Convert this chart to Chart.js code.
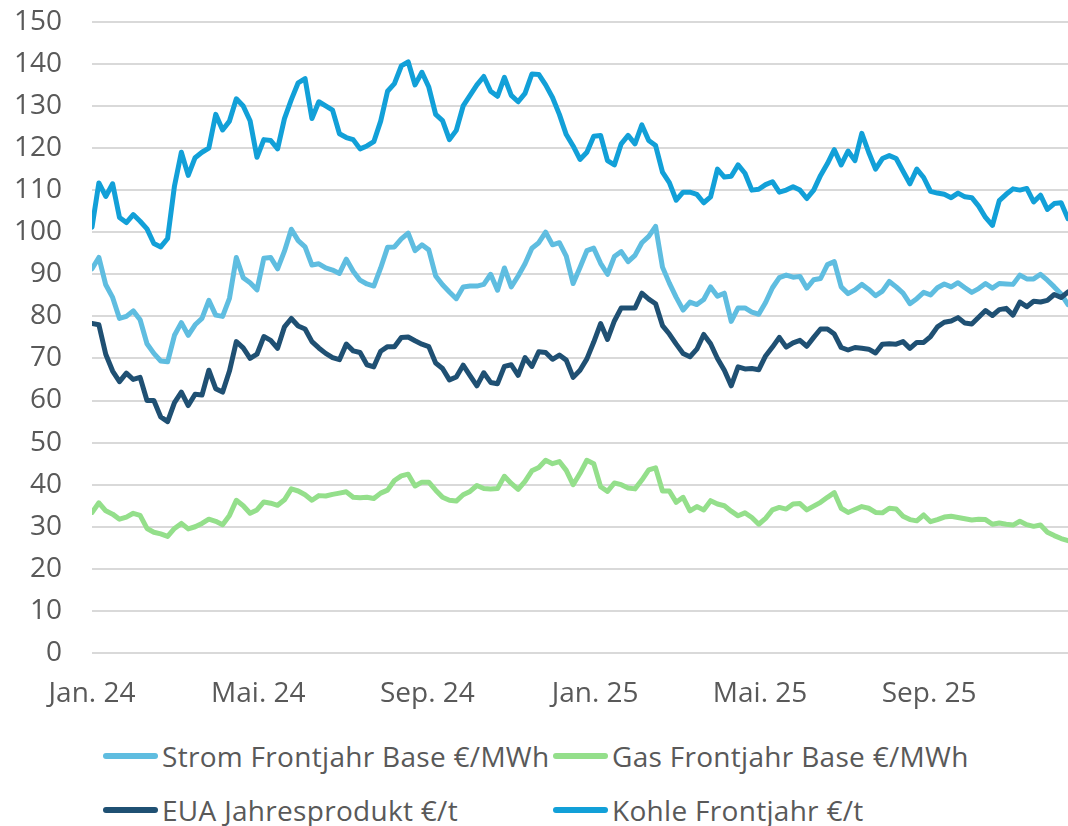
<!DOCTYPE html>
<html lang="de">
<head>
<meta charset="utf-8">
<title>Frontjahrespreise Strom, Gas, EUA, Kohle</title>
<script src="https://cdn.jsdelivr.net/npm/chart.js@4.4.1/dist/chart.umd.min.js"></script>
<style>
  html, body { margin: 0; padding: 0; background: #fff; overflow: hidden; }
  #wrap { position: relative; width: 1068px; height: 826px; overflow: hidden; }
  #box { position: absolute; left: 0; top: -25px; width: 1068px; height: 751px; }
  .item { position: absolute; display: flex; align-items: center; font-family: "Open Sans", sans-serif; font-size: 28px; letter-spacing: 0.3px; color: #595959; white-space: nowrap; line-height: 1; }
  .swatch { display: inline-block; width: 55px; height: 6px; border-radius: 3px; margin-right: 4px; }
</style>
</head>
<body>
<div id="wrap">
  <div id="box"><canvas id="chart"></canvas></div>
  <div id="legend"></div>
</div>
<script>
// Werte alle 5 Tage ab 01.01.2024 (Tag 0)
const stepDays = 5;

const tickDays = [0, 121, 244, 366, 486, 609];
const tickLabels = ["Jan. 24", "Mai. 24", "Sep. 24", "Jan. 25", "Mai. 25", "Sep. 25"];

const seriesNames = [
  "Strom Frontjahr Base €/MWh",
  "Gas Frontjahr Base €/MWh",
  "EUA Jahresprodukt €/t",
  "Kohle Frontjahr €/t"
];
const seriesColors = ["#5fbde0", "#94df8b", "#1f5073", "#12a0d8"];

const strom = [
  91.3, 94, 87.5, 84.5, 79.5, 80, 81.3, 79.2, 73.5, 71.2, 69.4, 69.2,
  75.5, 78.5, 75.5, 78, 79.5, 83.8, 80.3, 80, 84.3, 94, 89.2, 88,
  86.3, 93.8, 94, 91.3, 95.5, 100.7, 98, 96.5, 92.2, 92.5, 91.5, 91,
  90.2, 93.6, 90.7, 88.6, 87.7, 87.2, 91.5, 96.4, 96.5, 98.4, 99.8, 95.6,
  97, 95.8, 89.6, 87.5, 85.8, 84.2, 87, 87.2, 87.2, 87.6, 90, 86.2,
  91.5, 87, 89.6, 92.5, 96.2, 97.5, 100, 97, 97.5, 94.3, 87.8, 91.6,
  95.6, 96.2, 92.6, 90, 94.2, 95.4, 93, 94.5, 97.5, 99, 101.4, 91.7,
  87.9, 84.5, 81.5, 83.4, 82.8, 84, 87, 84.8, 85.5, 78.8, 82, 82,
  81, 80.5, 83.3, 86.8, 89.2, 89.8, 89.3, 89.5, 86.7, 88.7, 89, 92.3,
  93, 87, 85.4, 86.3, 87.6, 86.4, 84.9, 86, 88.3, 87, 85.5, 83,
  84.2, 85.7, 85.1, 86.8, 87.7, 87, 88, 86.8, 85.7, 86.6, 87.8, 86.7,
  87.8, 87.7, 87.6, 89.8, 88.9, 88.9, 90, 88.6, 87, 85.3, 82.8
];

const gas = [
  33.4, 35.7, 33.8, 33, 31.8, 32.3, 33.2, 32.7, 29.6, 28.7, 28.3, 27.7,
  29.6, 30.8, 29.5, 30, 30.8, 31.8, 31.3, 30.5, 32.7, 36.3, 35, 33.2,
  34, 35.9, 35.6, 35.1, 36.4, 39, 38.5, 37.6, 36.3, 37.4, 37.3, 37.7,
  38, 38.3, 37, 36.9, 37, 36.7, 38, 38.7, 41, 42.1, 42.5, 39.7,
  40.6, 40.6, 38.7, 37, 36.3, 36.1, 37.6, 38.4, 39.8, 39.1, 39, 39.1,
  42, 40.3, 38.9, 40.8, 43.3, 44.1, 45.8, 45, 45.5, 43.4, 40, 42.7,
  45.8, 45, 39.5, 38.4, 40.4, 40, 39.2, 39, 41.1, 43.5, 44, 38.5,
  38.5, 35.8, 37, 33.8, 34.8, 34, 36.2, 35.4, 35, 33.7, 32.6, 33.3,
  32.2, 30.6, 32, 34, 34.6, 34.2, 35.4, 35.5, 34, 34.9, 35.8, 37,
  38.1, 34.4, 33.4, 34.1, 34.8, 34.4, 33.4, 33.3, 34.4, 34.2, 32.5, 31.7,
  31.4, 32.8, 31.2, 31.7, 32.3, 32.5, 32.2, 31.9, 31.6, 31.8, 31.7, 30.6,
  30.9, 30.6, 30.4, 31.3, 30.5, 30.1, 30.4, 28.7, 27.9, 27.2, 26.7
];

const eua = [
  78.3, 78, 71, 67, 64.5, 66.5, 65, 65.5, 60, 60, 56.1, 55,
  59.5, 62, 58.8, 61.5, 61.3, 67.2, 62.8, 62, 67, 74, 72.5, 70,
  71, 75.2, 74.3, 72.4, 77.5, 79.5, 77.7, 77, 74, 72.5, 71.2, 70.2,
  69.7, 73.4, 71.8, 71.4, 68.5, 68, 71.7, 72.8, 72.8, 75, 75.1, 74.2,
  73.4, 72.8, 68.9, 67.6, 64.9, 65.6, 68.4, 65.9, 63.5, 66.6, 64.3, 64,
  68.1, 68.5, 66, 70.2, 68.1, 71.6, 71.4, 69.8, 70.8, 69.6, 65.5, 67.2,
  69.9, 73.9, 78.3, 74.5, 78.9, 82, 82, 82, 85.5, 84.1, 83, 77.8,
  75.8, 73.4, 71.2, 70.4, 72.2, 75.7, 73.5, 70, 67.2, 63.5, 68, 67.5,
  67.6, 67.3, 70.6, 72.7, 75, 72.7, 73.7, 74.3, 72.9, 75, 77, 77,
  75.8, 72.6, 72, 72.6, 72.4, 72.2, 71.3, 73.4, 73.5, 73.4, 74, 72.4,
  73.8, 73.8, 75.2, 77.5, 78.6, 78.9, 79.7, 78.4, 78.2, 79.8, 81.4, 80.2,
  81.6, 81.9, 80.3, 83.4, 82.3, 83.6, 83.4, 83.8, 85.2, 84.5, 85.8
];

const kohle = [
  101.2, 111.7, 108.5, 111.5, 103.5, 102.3, 104.2, 102.6, 100.8, 97.3, 96.5, 98.5,
  111, 119, 113.5, 117.7, 119, 120, 128, 124.3, 126.4, 131.7, 130, 126.5,
  117.8, 122, 121.8, 119.8, 127, 131.5, 135.5, 136.5, 127, 131, 130, 129,
  123.4, 122.5, 122, 119.8, 120.5, 121.5, 126.4, 133.5, 135.3, 139.5, 140.5, 135,
  138, 134.5, 128, 126.5, 122, 124.2, 130, 132.5, 135, 137, 133.5, 132.3,
  136.8, 132.5, 131, 133, 137.6, 137.5, 135, 132, 128, 123.2, 120.5, 117.3,
  119, 122.8, 123, 117, 116, 121, 123, 121, 125.5, 121.8, 120.6, 114.3,
  111.8, 107.6, 109.5, 109.5, 109, 107, 108.4, 115, 113.1, 113.3, 116, 114,
  110, 110.2, 111.3, 112, 109.5, 110, 110.8, 110, 108, 110, 113.5, 116.3,
  119.6, 116, 119.3, 117, 123.5, 119, 115, 117.5, 118.2, 117.5, 114.5, 111.5,
  115, 113, 109.7, 109.3, 109, 108.2, 109.3, 108.4, 108.2, 106.2, 103.5, 101.6,
  107.5, 109, 110.3, 110, 110.4, 107.2, 108.8, 105.4, 106.8, 107, 103.2
];

const seriesValues = [strom, gas, eua, kohle];
const days = strom.map((_, i) => i * stepDays);

const fontFamily = '"Open Sans", sans-serif';
const textColor = "#595959";

const datasets = seriesValues.map((values, i) => ({
  label: seriesNames[i],
  data: values.map((v, j) => ({ x: days[j], y: v })),
  borderColor: seriesColors[i],
  backgroundColor: seriesColors[i],
  borderWidth: 5,
  pointRadius: 0,
  tension: 0,
  borderJoinStyle: "round",
  borderCapStyle: "round",
  fill: false,
  order: seriesNames.length - i
}));

new Chart(document.getElementById("chart"), {
  type: "line",
  data: { datasets },
  options: {
    responsive: true,
    maintainAspectRatio: false,
    animation: false,
    layout: { padding: 0 },
    scales: {
      x: {
        type: "linear",
        min: 0,
        max: days[days.length - 1],
        grid: { display: false, drawTicks: false },
        border: { display: false },
        afterBuildTicks: axis => {
          axis.ticks = tickDays.map(v => ({ value: v }));
        },
        afterFit: axis => { axis.height = 73; },
        ticks: {
          autoSkip: false,
          maxRotation: 0,
          padding: 24,
          color: textColor,
          font: { family: fontFamily, size: 28 },
          callback: value => tickLabels[tickDays.indexOf(value)]
        }
      },
      y: {
        min: 0,
        max: 150,
        grid: { color: "#d9d9d9", lineWidth: 2, drawTicks: false },
        border: { display: false },
        afterFit: axis => { axis.width = 92; },
        ticks: {
          stepSize: 10,
          padding: 30,
          color: textColor,
          font: { family: fontFamily, size: 28 }
        }
      }
    },
    plugins: {
      legend: { display: false },
      tooltip: { enabled: false }
    }
  }
});

// Legende in zwei Spalten wie im Original
const legend = document.getElementById("legend");
const legendPos = [[103, 739], [553, 739], [103, 793], [553, 793]];
seriesNames.forEach((name, i) => {
  const item = document.createElement("div");
  item.className = "item";
  item.style.left = legendPos[i][0] + "px";
  item.style.top = legendPos[i][1] + "px";
  item.style.height = "34px";
  const sw = document.createElement("span");
  sw.className = "swatch";
  sw.style.background = seriesColors[i];
  const txt = document.createElement("span");
  txt.textContent = name;
  item.appendChild(sw);
  item.appendChild(txt);
  legend.appendChild(item);
});
</script>
</body>
</html>
